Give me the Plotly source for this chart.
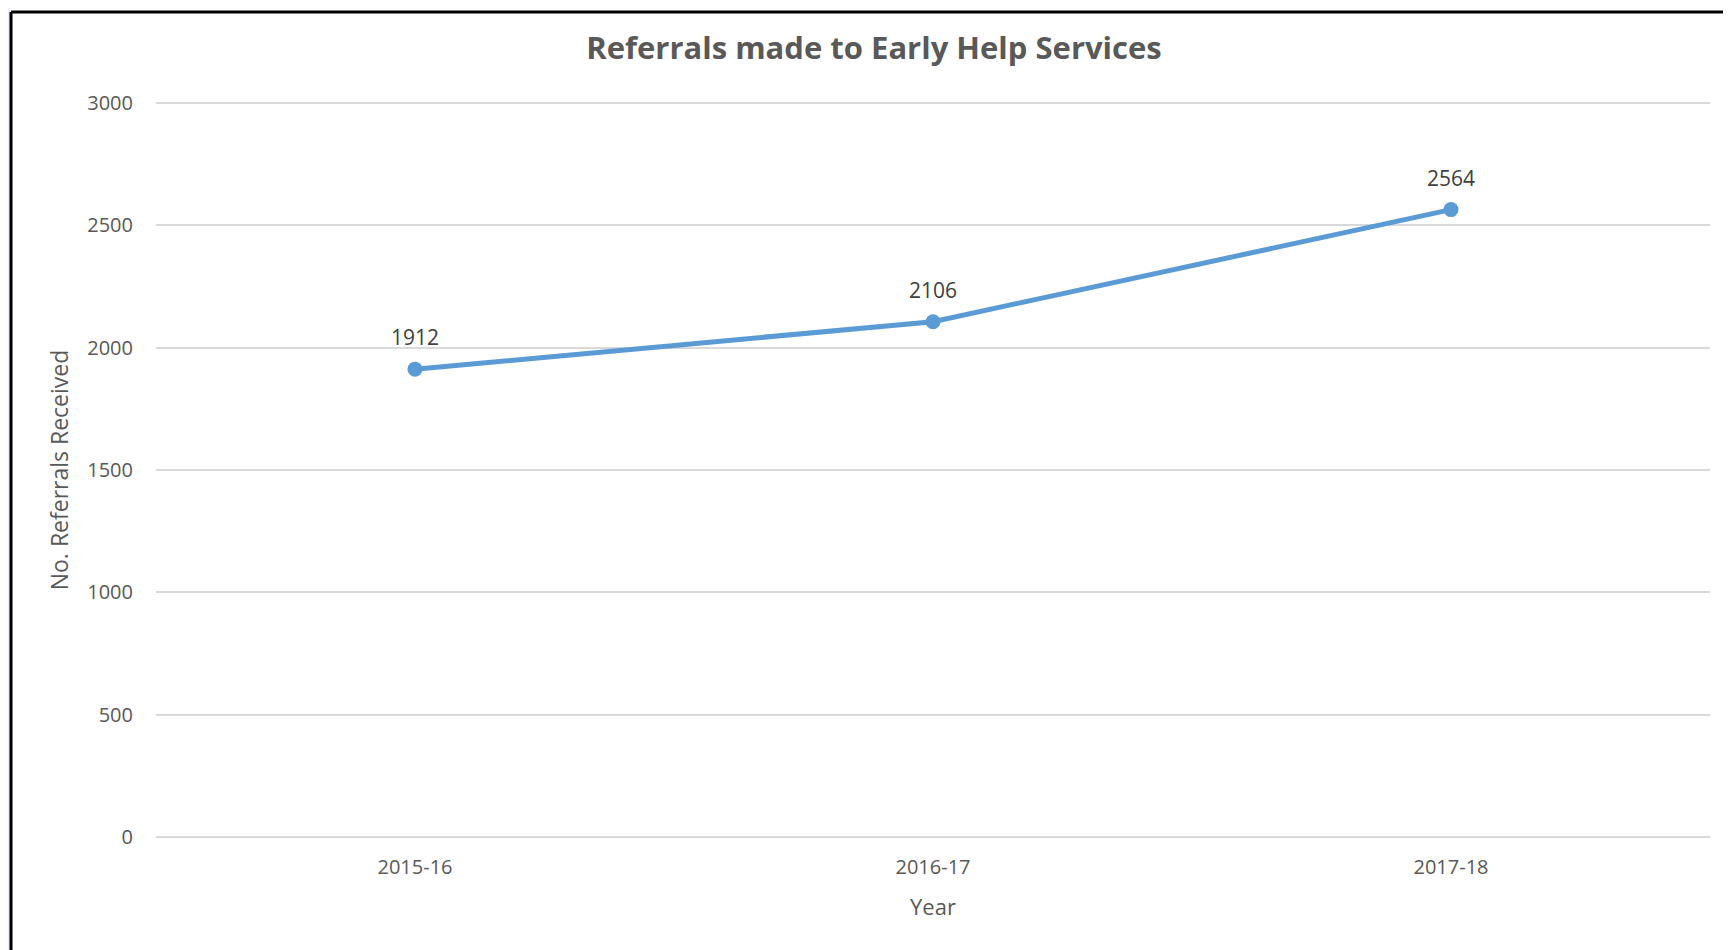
import plotly.graph_objects as go

years = ["2015-16", "2016-17", "2017-18"]
referrals = [1912, 2106, 2564]
y_ticks = [0, 500, 1000, 1500, 2000, 2500, 3000]

FONT = "Open Sans"
# page has an 8px body margin, so the figure is shifted to compensate
OFF = 8
PAD = 16  # extra y-range so end gridlines are drawn
W, H = 1731 - OFF, 950 - OFF
YPX = (837 - 103) / 3000  # px per unit
EXT = PAD * YPX
L, R = 156 - OFF, 21
T, B = 103 - OFF - EXT, 113 - EXT
PW, PH = W - L - R, H - T - B

fig = go.Figure()
fig.add_trace(go.Scatter(
    x=years, y=referrals, mode="lines+markers",
    line=dict(color="#5B9BD5", width=5),
    marker=dict(color="#5B9BD5", size=15),
    showlegend=False, hoverinfo="skip"))

for xv, yv in zip(years, referrals):
    fig.add_annotation(x=xv, y=yv, text=str(yv), showarrow=False,
                       yshift=32, yanchor="middle",
                       font=dict(family=FONT, size=21, color="#404040"))

fig.update_layout(
    width=W, height=H,
    margin=dict(l=L, r=R, t=T, b=B),
    paper_bgcolor="white", plot_bgcolor="white",
    title=dict(text="<b>Referrals made to Early Help Services</b>",
               x=(874 - OFF) / W, xanchor="center", y=1 - (48 - OFF) / H,
               yanchor="middle",
               font=dict(family=FONT, size=31, color="#595959")),
    xaxis=dict(type="category", range=[-0.5, 2.5], showgrid=False,
               showline=False, zeroline=False, ticks="",
               ticklabelstandoff=max(0, int(round(16 - EXT))),
               tickfont=dict(family=FONT, size=20, color="#595959"),
               title=dict(text="Year", standoff=20,
                          font=dict(family=FONT, size=22, color="#595959"))),
    yaxis=dict(range=[-PAD, 3000 + PAD], tickvals=y_ticks, showgrid=True,
               gridcolor="#D9D9D9", gridwidth=2, zeroline=False,
               showline=False, ticks="", ticklabelstandoff=22,
               tickfont=dict(family=FONT, size=20, color="#595959"),
               title=dict(text="No. Referrals Received", standoff=12,
                          font=dict(family=FONT, size=23, color="#595959"))),
)

# outer chart border (top and left edges visible in reference)
fig.add_shape(type="rect", xref="paper", yref="paper", layer="below",
              x0=-L / PW, x1=-(L - 2) / PW, y0=-B / PH, y1=1 + T / PH,
              fillcolor="#E9EEF6", line=dict(width=0))
bx = -(L - 3) / PW
by = 1 + (T - 4) / PH
fig.add_shape(type="line", xref="paper", yref="paper",
              x0=bx, x1=bx, y0=-B / PH, y1=by,
              line=dict(color="black", width=3))
fig.add_shape(type="line", xref="paper", yref="paper",
              x0=bx, x1=1 + R / PW, y0=by, y1=by,
              line=dict(color="black", width=3))

fig.write_html("out.html")
